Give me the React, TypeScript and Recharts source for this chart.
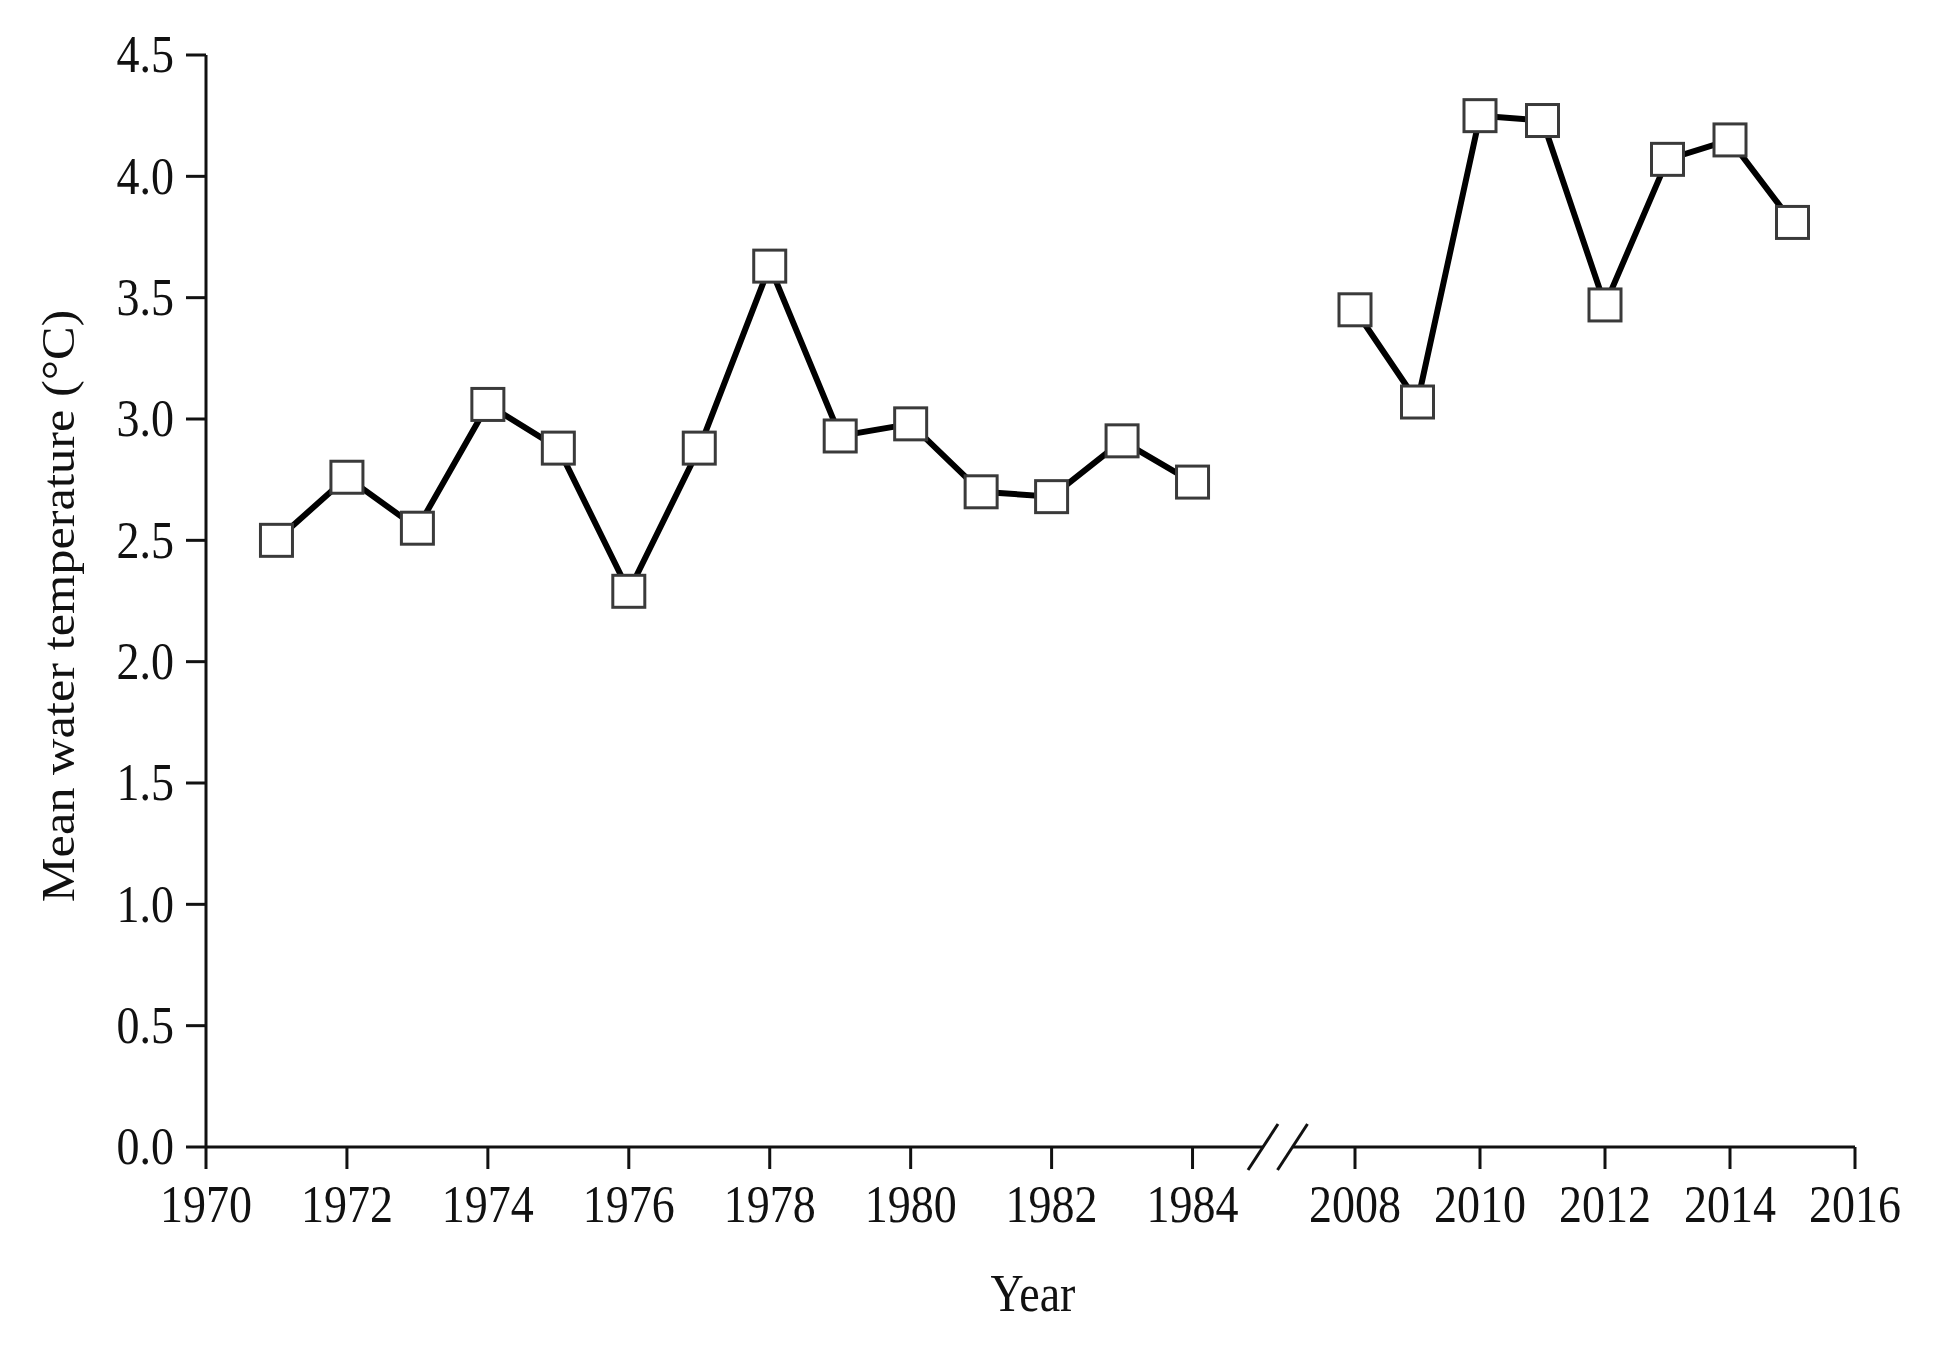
import { LineChart, Line, XAxis, YAxis, ReferenceDot, Label } from 'recharts';

// early period (left segment of the broken axis)
const earlyYears = [1971, 1972, 1973, 1974, 1975, 1976, 1977, 1978, 1979, 1980, 1981, 1982, 1983, 1984];
const earlyTemps = [2.5, 2.76, 2.55, 3.06, 2.88, 2.29, 2.88, 3.63, 2.93, 2.98, 2.7, 2.68, 2.91, 2.74];

// recent period (right segment)
const lateYears = [2008, 2009, 2010, 2011, 2012, 2013, 2014, 2015];
const lateTemps = [3.45, 3.07, 4.25, 4.23, 3.47, 4.07, 4.15, 3.81];

const earlyTicks = [1970, 1972, 1974, 1976, 1978, 1980, 1982, 1984];
const lateTicks = [2008, 2010, 2012, 2014, 2016];
const tempTicks = [0, 0.5, 1, 1.5, 2, 2.5, 3, 3.5, 4, 4.5];

const earlyData = earlyYears.map((year, i) => ({ year, temp: earlyTemps[i] }));
const lateData = lateYears.map((year, i) => ({ year, temp: lateTemps[i] }));

const FONT = '"Liberation Serif", "Times New Roman", serif';
const INK = '#111';
const FONT_SIZE = 46;
// the original figure is slightly stretched vertically
const STRETCH = 1.13;

const axisStyle = { stroke: INK, strokeWidth: 3 };

const XTick = (props: any) => {
  const { x, y, payload } = props;
  return (
    <g transform={`translate(${x},${y}) scale(1,${STRETCH})`}>
      <text x={0} y={0} dy="0.71em" textAnchor="middle" fill={INK} fontSize={FONT_SIZE} fontFamily={FONT}>
        {payload.value}
      </text>
    </g>
  );
};

const YTick = (props: any) => {
  const { x, y, payload } = props;
  return (
    <g transform={`translate(${x},${y}) scale(1,${STRETCH})`}>
      <text x={0} y={0} textAnchor="end" dominantBaseline="central" fill={INK} fontSize={FONT_SIZE} fontFamily={FONT}>
        {Number(payload.value).toFixed(1)}
      </text>
    </g>
  );
};

const SquareDot = (props: any) => {
  const { cx, cy, index } = props;
  if (cx == null || cy == null) return null;
  return (
    <rect
      key={`sq-${index}`}
      x={cx - 16}
      y={cy - 16}
      width={32}
      height={32}
      fill="#fff"
      stroke="#3a3a3a"
      strokeWidth={3}
    />
  );
};

const BreakMark = (props: any) => {
  const { cx, cy } = props;
  return <line x1={cx - 15} y1={cy + 23} x2={cx + 15} y2={cy - 23} stroke={INK} strokeWidth={3} />;
};

const renderYLabel = (props: any) => {
  const vb = props.viewBox || { x: 0 };
  const x = vb.x + 58;
  const y = 606;
  return (
    <g transform={`translate(${x},${y}) rotate(-90) scale(${STRETCH * 0.97},1)`}>
      <text x={0} y={0} textAnchor="middle" dominantBaseline="central" fill={INK} fontSize={FONT_SIZE} fontFamily={FONT}>
        Mean water temperature (°C)
      </text>
    </g>
  );
};

const renderXLabel = () => (
  <g transform={`translate(1033,1294) scale(1,${STRETCH})`}>
    <text x={0} y={0} textAnchor="middle" dominantBaseline="central" fill={INK} fontSize={FONT_SIZE} fontFamily={FONT}>
      Year
    </text>
  </g>
);

export default function App() {
  return (
    <div style={{ position: 'absolute', left: 0, top: 0, width: 1933, height: 1345, background: '#fff' }}>
      <div style={{ position: 'absolute', left: 0, top: 0 }}>
        <LineChart width={1300} height={1345} data={earlyData} margin={{ top: 55, right: 37, bottom: 0, left: 0 }}>
          <XAxis
            dataKey="year"
            type="number"
            domain={[1970, 1985]}
            ticks={earlyTicks}
            interval={0}
            height={198}
            axisLine={axisStyle}
            tickLine={axisStyle}
            tickSize={22}
            tickMargin={16}
            tick={XTick}
          >
            <Label content={renderXLabel} />
          </XAxis>
          <YAxis
            type="number"
            domain={[0, 4.5]}
            ticks={tempTicks}
            interval={0}
            width={206}
            axisLine={axisStyle}
            tickLine={axisStyle}
            tickSize={20}
            tickMargin={12}
            tick={YTick}
          >
            <Label content={renderYLabel} />
          </YAxis>
          <ReferenceDot x={1985} y={0} r={0} ifOverflow="visible" shape={BreakMark} />
          <Line
            type="linear"
            dataKey="temp"
            stroke="#000"
            strokeWidth={6}
            dot={SquareDot}
            activeDot={false}
            isAnimationActive={false}
          />
        </LineChart>
      </div>
      <div style={{ position: 'absolute', left: 1250, top: 0 }}>
        <LineChart width={683} height={1345} data={lateData} margin={{ top: 55, right: 78, bottom: 0, left: 42.5 }}>
          <XAxis
            dataKey="year"
            type="number"
            domain={[2007, 2016]}
            ticks={lateTicks}
            interval={0}
            height={198}
            axisLine={axisStyle}
            tickLine={axisStyle}
            tickSize={22}
            tickMargin={16}
            tick={XTick}
          />
          <YAxis type="number" domain={[0, 4.5]} hide />
          <ReferenceDot x={2007} y={0} r={0} ifOverflow="visible" shape={BreakMark} />
          <Line
            type="linear"
            dataKey="temp"
            stroke="#000"
            strokeWidth={6}
            dot={SquareDot}
            activeDot={false}
            isAnimationActive={false}
          />
        </LineChart>
      </div>
    </div>
  );
}
